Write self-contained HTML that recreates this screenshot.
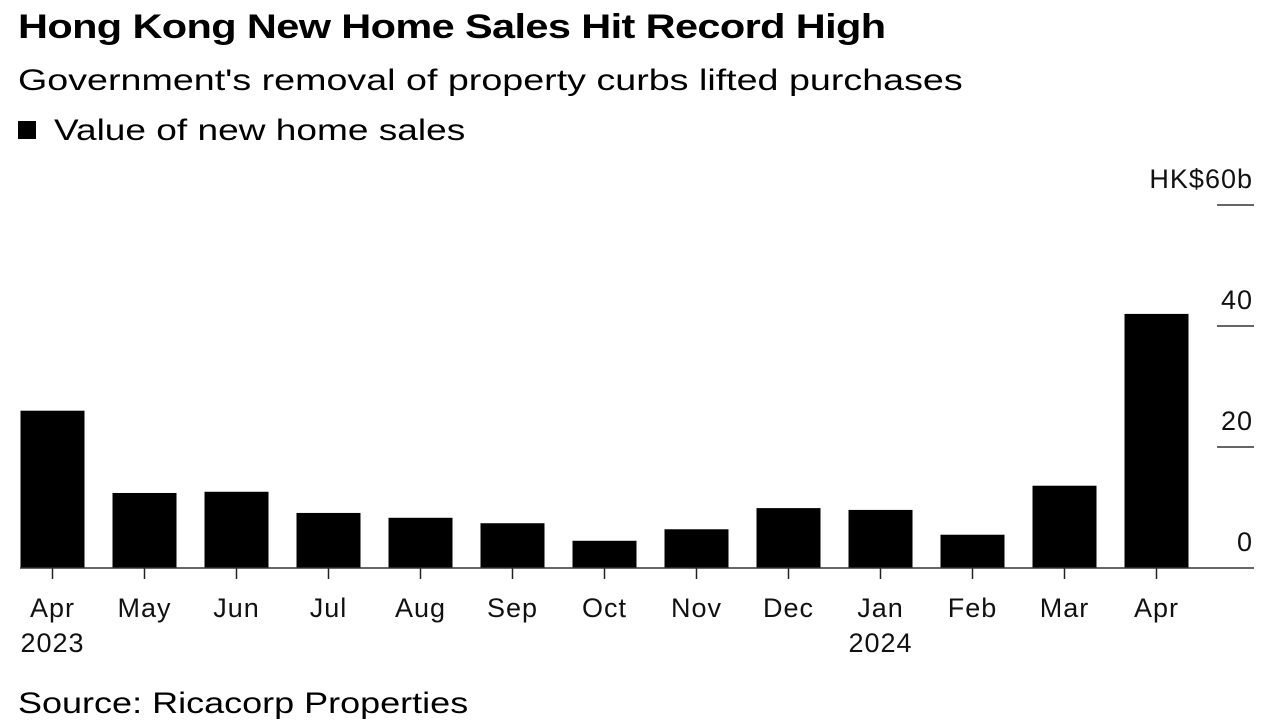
<!DOCTYPE html>
<html><head><meta charset="utf-8"><style>
body{margin:0;background:#fff;width:1267px;height:727px;overflow:hidden;font-family:"Liberation Sans",sans-serif;color:#000}
.t{position:absolute;white-space:nowrap;transform-origin:0 50%}
</style></head><body>
<div class="t" style="left:18px;top:8px;font-size:34px;font-weight:bold;letter-spacing:-0.5px;transform:scaleX(1.22)">Hong Kong New Home Sales Hit Record High</div>
<div class="t" style="left:18px;top:64px;font-size:30px;transform:scaleX(1.255)">Government's removal of property curbs lifted purchases</div>
<div class="t" style="left:18px;top:114px;font-size:30px"><span style="display:inline-block;width:18px;height:18px;background:#000;margin-right:18px;vertical-align:1px"></span><span style="display:inline-block;transform:scaleX(1.235);transform-origin:0 50%">Value of new home sales</span></div>
<div class="t" style="left:18px;top:687px;font-size:30px;transform:scaleX(1.2)">Source: Ricacorp Properties</div>
<svg id="chart" width="1267" height="727" style="position:absolute;left:0;top:0"></svg>
<script>
const categories=["Apr","May","Jun","Jul","Aug","Sep","Oct","Nov","Dec","Jan","Feb","Mar","Apr"];
const yearLabels=["2023","","","","","","","","","2024","","",""];
const values=[26,12.4,12.6,9.1,8.3,7.4,4.5,6.4,9.9,9.6,5.5,13.6,42];
const yTicks=[0,20,40,60];
const yTickLabels=["0","20","40","HK$60b"];
const NS="http://www.w3.org/2000/svg";
const svg=document.getElementById('chart');
const y0=568,yTop=205,yMax=60;
const y=v=>y0-(v/yMax)*(y0-yTop);
const step=92.0,firstCenter=52.5,bw=64;
const x=i=>firstCenter+i*step;
function mk(t,a){const e=document.createElementNS(NS,t);for(const k in a)e.setAttribute(k,a[k]);svg.appendChild(e);return e;}
yTicks.forEach((v,i)=>{
  if(v>0){const g=mk('line',{x1:1217,x2:1254,y1:y(v),y2:y(v),stroke:'#333','stroke-width':1.5});
  
  }
  const t=mk('text',{x:1253,y:y(v)-17,'text-anchor':'end','font-size':27,'letter-spacing':1,fill:'#111'});
  t.textContent=yTickLabels[i];
  
  
});
values.forEach((v,i)=>{
  const r=mk('rect',{x:x(i)-bw/2,y:y(v),width:bw,height:y0-y(v),fill:'#000'});
  
  
  const tk=mk('line',{x1:x(i),x2:x(i),y1:y0,y2:y0+11,stroke:'#222','stroke-width':1.5});
  
  
  const l=mk('text',{x:x(i),y:617,'text-anchor':'middle','font-size':27,'letter-spacing':1,fill:'#111'});
  l.textContent=categories[i];
  
  
  if(yearLabels[i]){const yl=mk('text',{x:x(i),y:652,'text-anchor':'middle','font-size':27,'letter-spacing':1,fill:'#111'});
  yl.textContent=yearLabels[i];
  
  }
});
const b=mk('line',{x1:20,x2:1254,y1:y0,y2:y0,stroke:'#333','stroke-width':1.5});


</script>
</body></html>
